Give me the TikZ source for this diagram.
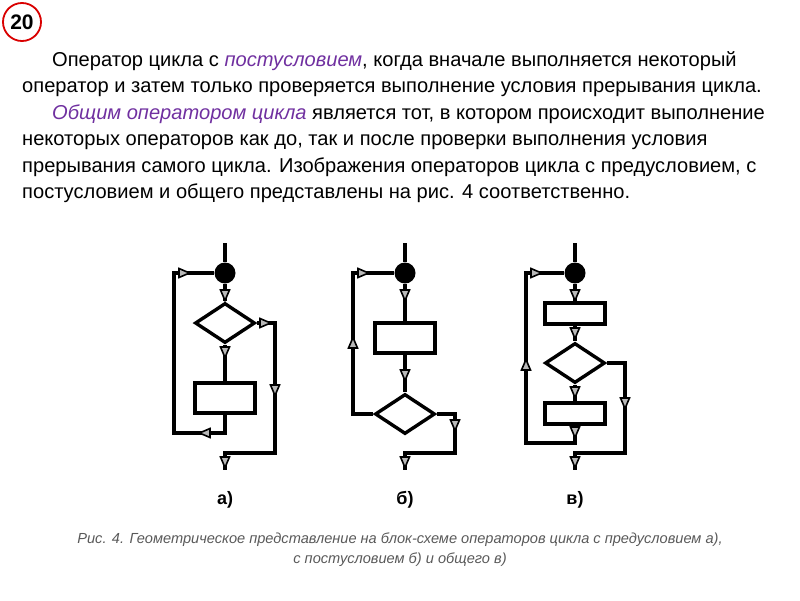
\documentclass[tikz,border=0pt]{standalone}
\usepackage{fontspec}
\setmainfont{Liberation Sans}
\usetikzlibrary{shapes.geometric}
\definecolor{purp}{HTML}{7030A0}
\definecolor{capg}{HTML}{595959}
\begin{document}
\begin{tikzpicture}[x=1pt,y=-1pt,
  conn/.style={draw=black,line width=3.6pt},
  blk/.style={draw,line width=3.6pt,minimum width=60pt,minimum height=30pt,inner sep=0pt},
  dia/.style={draw,line width=3.4pt,diamond,aspect=1.5,minimum width=60pt,minimum height=40pt,inner sep=0pt},
  dot/.style={circle,fill=black,minimum size=21pt,inner sep=0pt},
  tx/.style={anchor=base west,inner sep=0pt,font=\fontsize{20.1}{24}\selectfont},
  tri/.pic={\draw[line width=1.6pt,fill=gray!55] (-4.5,-5)--(4.5,-5)--(0,5.5)--cycle;}]
\useasboundingbox (0,0) rectangle (800,600);
\node[draw=red!85!black,line width=1.8pt,circle,minimum size=38pt,inner sep=0pt,font=\fontsize{21}{24}\selectfont\bfseries] (num) at (22,22) {20};
\node[tx] (t1) at (52,66) {Оператор цикла с \textcolor{purp}{\itshape постусловием}, когда вначале выполняется некоторый};
\node[tx] (t2) at (22,92.5) {оператор и затем только проверяется выполнение условия прерывания цикла.};
\node[tx] (t3) at (52,119) {\textcolor{purp}{\itshape Общим оператором цикла} является тот, в котором происходит выполнение};
\node[tx] (t4) at (22,145.5) {некоторых операторов как до, так и после проверки выполнения условия};
\node[tx] (t5) at (22,172) {прерывания самого цикла. Изображения операторов цикла с предусловием, с};
\node[tx] (t6) at (22,198.5) {постусловием и общего представлены на рис. 4 соответственно.};
% ---- a
\coordinate (a0) at (225,243); \node[dot] (ad) at (225,273) {};
\node[dia] (aq) at (225,323) {}; \node[blk] (ab) at (225,398) {};
\coordinate (al1) at (174,273); \coordinate (al2) at (174,433); \coordinate (al3) at (225,433);
\coordinate (ar1) at (275,323); \coordinate (ar2) at (275,453); \coordinate (ae1) at (225,453); \coordinate (ae2) at (225,470);
\path[conn] (a0)--(ad); \path[conn] (ad)--(aq); \path[conn] (aq)--(ab);
\path[conn] (ab.south)--(al3)--(al2)--(al1)--(ad);
\path[conn] (aq.east)--(ar1)--(ar2)--(ae1)--(ae2);
\pic[rotate=90] at (184,273) {tri}; \pic at (225,295) {tri}; \pic[rotate=90] at (265,323) {tri};
\pic at (225,352) {tri}; \pic at (275,390) {tri}; \pic[rotate=-90] at (205,433) {tri}; \pic at (225,462) {tri};
% ---- b
\coordinate (b0) at (405,243); \node[dot] (bd) at (405,273) {};
\node[blk] (bb) at (405,338) {}; \node[dia] (bq) at (405,414) {};
\coordinate (bl1) at (353,273); \coordinate (bl2) at (353,414);
\coordinate (br1) at (455,414); \coordinate (br2) at (455,453); \coordinate (be1) at (405,453); \coordinate (be2) at (405,470);
\path[conn] (b0)--(bd); \path[conn] (bd)--(bb); \path[conn] (bb)--(bq);
\path[conn] (bq.west)--(bl2)--(bl1)--(bd);
\path[conn] (bq.east)--(br1)--(br2)--(be1)--(be2);
\pic[rotate=90] at (363,273) {tri}; \pic at (405,295) {tri}; \pic at (405,375) {tri};
\pic[rotate=180] at (353,343) {tri}; \pic at (455,425) {tri}; \pic at (405,462) {tri};
% ---- c
\coordinate (c0) at (575,243); \node[dot] (cd) at (575,273) {};
\node[blk,minimum height=21pt] (cb1) at (575,313.5) {}; \node[dia] (cq) at (575,363) {};
\node[blk,minimum height=21pt] (cb2) at (575,413.5) {};
\coordinate (cl1) at (526,273); \coordinate (cl2) at (526,443); \coordinate (cl3) at (575,443);
\coordinate (cr1) at (625,363); \coordinate (cr2) at (625,453); \coordinate (ce1) at (575,453); \coordinate (ce2) at (575,470);
\path[conn] (c0)--(cd); \path[conn] (cd)--(cb1); \path[conn] (cb1)--(cq); \path[conn] (cq)--(cb2);
\path[conn] (cb2.south)--(cl3)--(cl2)--(cl1)--(cd);
\path[conn] (cq.east)--(cr1)--(cr2)--(ce1)--(ce2);
\pic[rotate=90] at (536,273) {tri}; \pic at (575,295) {tri}; \pic at (575,333) {tri};
\pic at (575,392) {tri}; \pic at (575,432) {tri}; \pic[rotate=180] at (526,365) {tri};
\pic at (625,403) {tri}; \pic at (575,462) {tri};
% labels
\node[font=\fontsize{18}{20}\selectfont\bfseries] (la) at (225,500) {а)};
\node[font=\fontsize{18}{20}\selectfont\bfseries] (lb) at (405,500) {б)};
\node[font=\fontsize{18}{20}\selectfont\bfseries] (lc) at (575,500) {в)};
\node[font=\fontsize{14.6}{20}\selectfont\itshape,text=capg,align=center] (cap) at (400,550) {Рис. 4. Геометрическое представление на блок-схеме операторов цикла с предусловием а),\\с постусловием б) и общего в)};
\end{tikzpicture}
\end{document}
